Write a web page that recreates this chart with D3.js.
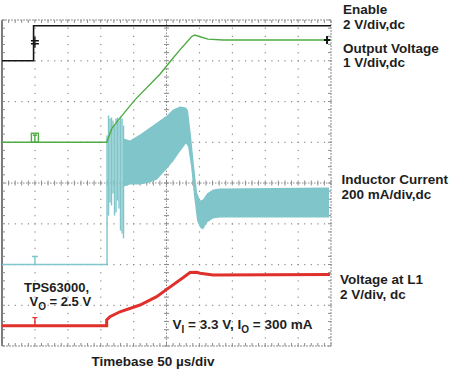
<!DOCTYPE html>
<html>
<head>
<meta charset="utf-8">
<script src="https://cdn.jsdelivr.net/npm/d3@7"></script>
<style>
  body { margin: 0; background: #fff; }
  text { font-family: "Liberation Sans", Arial, sans-serif; font-weight: bold; fill: #1e1e1e; }
</style>
</head>
<body>
<div id="scope"></div>
<script>
// time axis: 10 divisions at 50 µs/div, 8 vertical divisions
const timeRange = [0, 500]
const divCount = 8

// Enable, 2 V/div, ground at division 7
const enableTime = [0, 48, 48, 500]
const enableVolt = [0, 0, 1.72, 1.72]

// Output voltage, 1 V/div, ground at division 5
const outTime = [0, 159, 167, 177, 202, 240, 255, 270, 288, 293, 301, 313, 336, 500]
const outVolt = [0, 0, 0.34, 0.55, 1.04, 1.67, 1.97, 2.26, 2.59, 2.63, 2.59, 2.53, 2.51, 2.51]

// Inductor current, 200 mA/div, zero at division 2
const idleTime = [0, 160]
const idleAmps = [0, 0]
const spikeTime = [159.6, 161.9, 164.1, 166.4, 168.7, 171, 173.3, 175.5, 177.8, 180.1, 182.4, 184.7]
const spikeHigh = [633, 731, 717, 721, 707, 682, 717, 721, 707, 726, 717, 682]
const spikeLow = [0, 240, 304, 290, 348, 240, 255, 314, 275, 167, 152, 128]
const bandTime = [185, 194.5, 209.7, 224.9, 235.6, 250.8, 259.9, 270.5, 279.6, 282.7, 287.2, 291.8, 296.4, 300.9, 305.5, 311.6, 320.7, 331.3, 497]
const bandHigh = [618, 608, 638, 672, 697, 731, 761, 775, 771, 756, 633, 486, 353, 314, 319, 348, 368, 373, 378]
const bandLow = [383, 393, 393, 403, 417, 471, 505, 554, 594, 579, 486, 339, 216, 182, 172, 206, 226, 231, 231]

// Voltage at L1, 2 V/div, ground at division 0.5
const swTime = [0, 159.1, 159.1, 164.1, 179.3, 209.7, 235.1, 250.3, 275.5, 285.7, 295.9, 300.9, 320.7, 498.5]
const swVolt = [0, 0, 0.28, 0.44, 0.68, 1.01, 1.42, 1.78, 2.36, 2.61, 2.62, 2.57, 2.48, 2.51]

const width = 453
const height = 378
const gridColor = '#8c8c8c'

const svg = d3.select('#scope')
    .append('svg')
    .attr('width', width)
    .attr('height', height)

const x = d3.scaleLinear().domain(timeRange).range([2, 331])
const y = d3.scaleLinear().domain([0, divCount]).range([346, 20])

// channel scale: value -> screen y, using the channel ground and volts/div
const channelY = (ground, perDiv) => v => y(ground + v / perDiv)
const yEnable = channelY(7, 2)
const yOut = channelY(5, 1)
const yCoil = channelY(2, 200)
const ySw = channelY(0.5, 2)

const divT = (timeRange[1] - timeRange[0]) / 10

// grid dots, five per division
const grid = svg.append('g')
const dotsX = d3.range(0, 10 * 5 + 1).map(i => i * divT / 5)
const dotsY = d3.range(0, divCount * 5 + 1).map(i => i / 5)

d3.range(1, divCount).filter(d => d !== 4).forEach(row => {
    grid.selectAll(null)
        .data(dotsX)
        .enter()
        .append('rect')
        .attr('x', d => x(d) - 0.5)
        .attr('y', y(row) - 0.5)
        .attr('width', 1.2)
        .attr('height', 1.2)
        .attr('fill', gridColor)
})

d3.range(1, 10).filter(d => d !== 5).forEach(col => {
    grid.selectAll(null)
        .data(dotsY)
        .enter()
        .append('rect')
        .attr('x', x(col * divT) - 0.5)
        .attr('y', d => y(d) - 0.5)
        .attr('width', 1.2)
        .attr('height', 1.2)
        .attr('fill', gridColor)
})

// center cross with minor ticks
grid.append('line')
    .attr('x1', x(timeRange[0])).attr('x2', x(timeRange[1]))
    .attr('y1', y(4)).attr('y2', y(4))
    .attr('stroke', gridColor).attr('stroke-dasharray', '1.5,1.5')
grid.append('line')
    .attr('x1', x(5 * divT)).attr('x2', x(5 * divT))
    .attr('y1', y(0)).attr('y2', y(divCount))
    .attr('stroke', gridColor).attr('stroke-dasharray', '1.5,1.5')

grid.selectAll('.hTick')
    .data(dotsX)
    .enter()
    .append('line')
    .attr('x1', d => x(d)).attr('x2', d => x(d))
    .attr('y1', y(4) - 2.5).attr('y2', y(4) + 2.5)
    .attr('stroke', gridColor)
grid.selectAll('.vTick')
    .data(dotsY)
    .enter()
    .append('line')
    .attr('x1', x(5 * divT) - 2.5).attr('x2', x(5 * divT) + 2.5)
    .attr('y1', d => y(d)).attr('y2', d => y(d))
    .attr('stroke', gridColor)

// frame with ticks along edges
grid.append('rect')
    .attr('x', x(timeRange[0])).attr('y', y(divCount))
    .attr('width', x(timeRange[1]) - x(timeRange[0]))
    .attr('height', y(0) - y(divCount))
    .attr('fill', 'none')
    .attr('stroke', gridColor)
    .attr('stroke-dasharray', '2,1')
grid.append('line')
    .attr('x1', x(0)).attr('x2', x(0))
    .attr('y1', y(0)).attr('y2', y(divCount))
    .attr('stroke', '#7a7a7a').attr('stroke-width', 2)

;[y(0), y(divCount)].forEach((edge, k) => {
    grid.selectAll(null)
        .data(dotsX)
        .enter()
        .append('line')
        .attr('x1', d => x(d)).attr('x2', d => x(d))
        .attr('y1', edge).attr('y2', k ? edge + 3 : edge - 3)
        .attr('stroke', gridColor)
})
;[x(timeRange[0]), x(timeRange[1])].forEach((edge, k) => {
    grid.selectAll(null)
        .data(dotsY)
        .enter()
        .append('line')
        .attr('x1', edge).attr('x2', k ? edge - 3 : edge + 3)
        .attr('y1', d => y(d)).attr('y2', d => y(d))
        .attr('stroke', gridColor)
})

const zip = (ts, vs) => ts.map((t, i) => ({ t: t, v: vs[i] }))

// inductor current
const coilColor = '#7fc5c9'
const band = bandTime.map((t, i) => ({ t: t, hi: bandHigh[i], lo: bandLow[i] }))
svg.append('path')
    .datum(band)
    .attr('d', d3.area().x(d => x(d.t)).y0(d => yCoil(d.lo)).y1(d => yCoil(d.hi)))
    .attr('fill', coilColor)

svg.selectAll('.spike')
    .data(spikeTime)
    .enter()
    .append('line')
    .attr('class', 'spike')
    .attr('x1', d => x(d)).attr('x2', d => x(d))
    .attr('y1', (d, i) => yCoil(spikeHigh[i]))
    .attr('y2', (d, i) => yCoil(spikeLow[i]))
    .attr('stroke', coilColor)
    .attr('stroke-width', 1.4)

svg.append('path')
    .datum(zip(idleTime, idleAmps))
    .attr('d', d3.line().x(d => x(d.t)).y(d => yCoil(d.v)))
    .attr('fill', 'none')
    .attr('stroke', coilColor)
    .attr('stroke-width', 1.3)

// enable
svg.append('path')
    .datum(zip(enableTime, enableVolt))
    .attr('d', d3.line().x(d => x(d.t)).y(d => yEnable(d.v)))
    .attr('fill', 'none')
    .attr('stroke', '#151515')
    .attr('stroke-width', 1.6)

// output voltage
svg.append('path')
    .datum(zip(outTime, outVolt))
    .attr('d', d3.line().x(d => x(d.t)).y(d => yOut(d.v)))
    .attr('fill', 'none')
    .attr('stroke', '#4fac45')
    .attr('stroke-width', 1.4)

// voltage at L1
svg.append('path')
    .datum(zip(swTime, swVolt))
    .attr('d', d3.line().x(d => x(d.t)).y(d => ySw(d.v)))
    .attr('fill', 'none')
    .attr('stroke', '#e0302c')
    .attr('stroke-width', 3)

// ground markers for each channel
const mx = x(divT)
const markers = svg.append('g').attr('fill', 'none').attr('stroke-width', 1.4)

markers.append('path')
    .attr('d', `M${mx},${yEnable(0) - 24}V${yEnable(0) - 13}M${mx - 4},${yEnable(0) - 20}h8M${mx - 4},${yEnable(0) - 17}h8`)
    .attr('stroke', '#151515')

markers.append('rect')
    .attr('x', mx - 3.5).attr('y', yOut(0) - 9)
    .attr('width', 7).attr('height', 9)
    .attr('stroke', '#4fac45')
markers.append('path')
    .attr('d', `M${mx - 2},${yOut(0) - 7}h4M${mx},${yOut(0) - 7}V${yOut(0)}`)
    .attr('stroke', '#4fac45')

markers.append('path')
    .attr('d', `M${mx - 3},${yCoil(0) - 8}h6M${mx},${yCoil(0) - 8}V${yCoil(0)}`)
    .attr('stroke', coilColor)

markers.append('path')
    .attr('d', `M${mx - 2.5},${ySw(0) - 8}h5M${mx},${ySw(0) - 8}V${ySw(0)}`)
    .attr('stroke', '#e0302c')

// trigger marker at right end of output trace
const tx = x(494)
markers.append('path')
    .attr('d', `M${tx - 3},${yOut(2.51)}h6M${tx},${yOut(2.51) - 4}V${yOut(2.51) + 4}`)
    .attr('stroke', '#151515')
    .attr('stroke-width', 2)

// labels
const labels = [
    { x: 343, y: 13.5, s: 'Enable' },
    { x: 343, y: 28.5, s: '2 V/div,dc' },
    { x: 343, y: 52.5, s: 'Output Voltage' },
    { x: 343, y: 67, s: '1 V/div,dc' },
    { x: 341.5, y: 184, s: 'Inductor Current' },
    { x: 341.5, y: 198.5, s: '200 mA/div,dc' },
    { x: 340, y: 284.3, s: 'Voltage at L1' },
    { x: 340, y: 299, s: '2 V/div, dc' },
    { x: 24, y: 291.8, s: 'TPS63000,', size: 13 },
    { x: 91.5, y: 366, s: 'Timebase 50 µs/div' }
]

svg.selectAll('.label')
    .data(labels)
    .enter()
    .append('text')
    .attr('class', 'label')
    .attr('x', d => d.x)
    .attr('y', d => d.y)
    .attr('font-size', d => (d.size || 13.5) + 'px')
    .text(d => d.s)

// labels with subscripts
const vo = svg.append('text').attr('x', 29.5).attr('y', 306).attr('font-size', '13px')
vo.append('tspan').text('V')
vo.append('tspan').attr('font-size', '10px').attr('dy', 4).text('O')
vo.append('tspan').attr('dy', -4).text(' = 2.5 V')

const vi = svg.append('text').attr('x', 172.5).attr('y', 329).attr('font-size', '13.5px')
vi.append('tspan').text('V')
vi.append('tspan').attr('font-size', '10px').attr('dy', 4).text('I')
vi.append('tspan').attr('dy', -4).text(' = 3.3 V, I')
vi.append('tspan').attr('font-size', '10px').attr('dy', 4).text('O')
vi.append('tspan').attr('dy', -4).text(' = 300 mA')
</script>
</body>
</html>
